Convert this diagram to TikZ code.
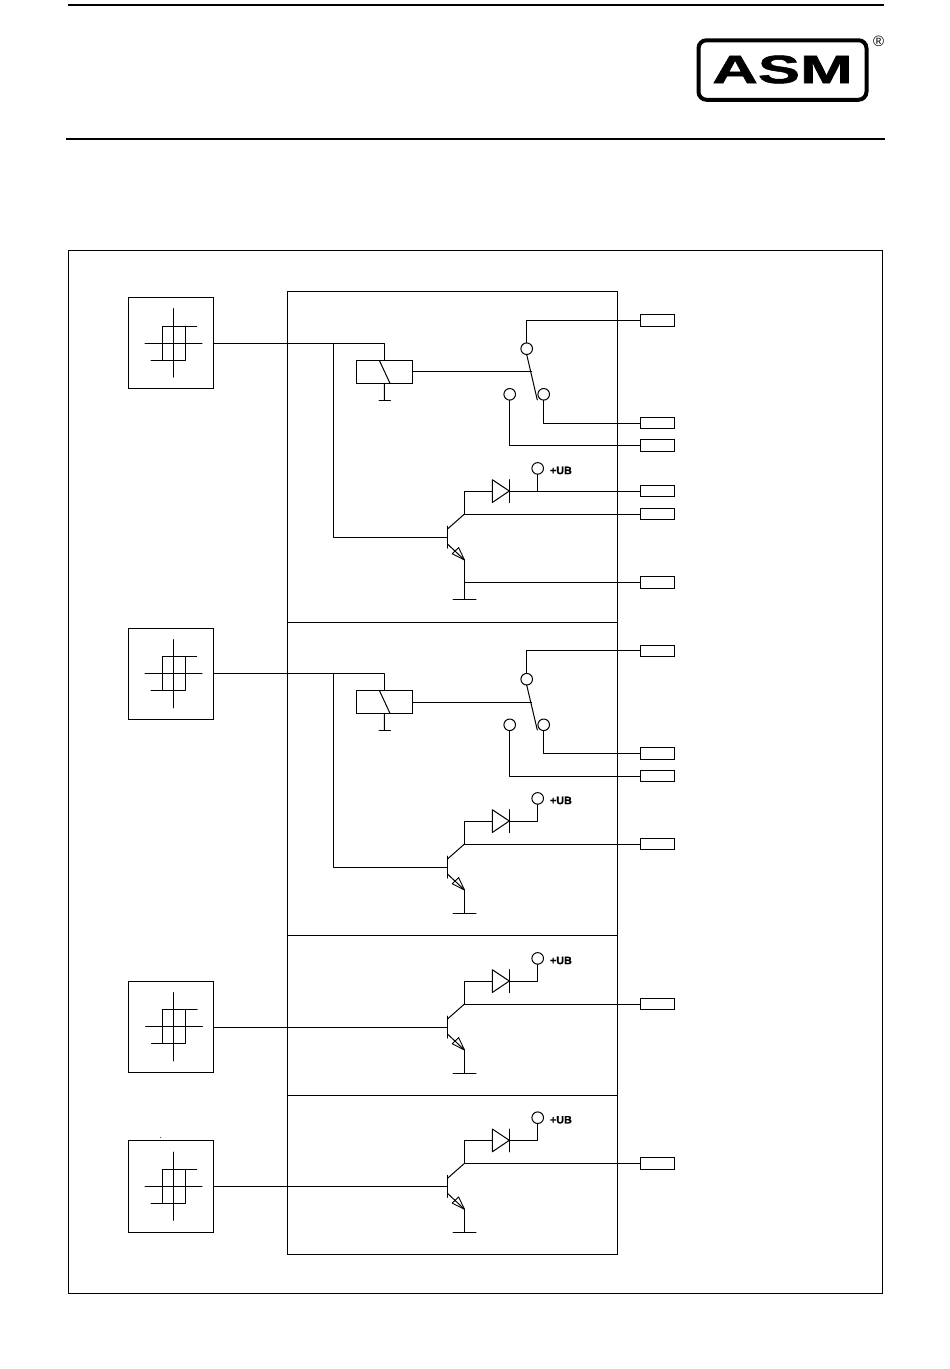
\documentclass[tikz,border=0pt]{standalone}
\usepackage{fontspec}
\usepackage{graphicx}
\setmainfont{Liberation Sans}
\tikzset{
  wire/.style={line width=1pt,line cap=round,line join=round},
  rule/.style={line width=2pt},
  block/.style={draw,line width=1pt,inner sep=0pt,outer sep=0pt,rectangle},
  sensorbox/.style={block,minimum width=85pt,minimum height=91.5pt},
  terminal/.style={block,minimum width=34.4pt,minimum height=11.5pt},
  coilbox/.style={block,minimum width=56pt,minimum height=23pt},
  contact/.style={draw,line width=1pt,circle,inner sep=0pt,outer sep=0pt,minimum size=11.6pt},
  ublabel/.style={anchor=west,inner sep=0pt,font=\fontsize{10.8}{12}\selectfont\bfseries\addfontfeature{FakeBold=0.6}},
}
% #1 name, #2 centre x, #3 centre y
\newcommand{\sensor}[3]{%
  \node[sensorbox] (#1) at (#2,#3) {};
  \draw[wire] (#2+2.5,#3-34.3) -- (#2+2.5,#3+34);
  \draw[wire] (#2-25.8,#3) -- (#2+31.2,#3);
  \draw[wire] (#2+25.9,#3-17) -- (#2-8.5,#3-17) -- (#2-8.5,#3+17) -- (#2-19.8,#3+17);
  \draw[wire] (#2-8.5,#3+17) -- (#2+14.5,#3+17) -- (#2+14.5,#3-17);
}
% #1 name, #2 input y, #3 fine offset, #4 coil output y
\newcommand{\relay}[4]{%
  \node[coilbox] (#1coil) at (384.3,#2+28.5) {};
  \draw[wire] (379.3,#2+17) -- (390,#2+40);
  \coordinate (#1gnd) at (384.5,#2+56.7);
  \draw[wire] (#1coil.south) -- (#1gnd);
  \draw[wire] (379,#2+56.7) -- (390.5,#2+56.7);
  \node[contact] (#1a) at (526.7,#2+5.4+#3) {};
  \node[contact] (#1b) at (543.7,#2+51+#3) {};
  \node[contact] (#1c) at (509.7,#2+51+#3) {};
  \coordinate (#1arm) at (537.3,#2+56.7);
  \coordinate (#1drive) at (531.7,#4);
  \draw[wire] (#1a.south) -- (#1arm);
  \draw[wire] (#1coil.east |- #1drive) -- (#1drive);
  \node[terminal] (#1t1) at (657.5,#2-23+#3) {};
  \node[terminal] (#1t2) at (657.5,#2+79.7+#3) {};
  \node[terminal] (#1t3) at (657.5,#2+102.2+#3) {};
  \draw[wire] (#1a.north) |- (#1t1.west);
  \draw[wire] (#1b.south) |- (#1t2.west);
  \draw[wire] (#1c.south) |- (#1t3.west);
}
% #1 name, #2 base y, #3 ground y
\newcommand{\transistor}[3]{%
  \coordinate (#1base) at (447.5,#2);
  \coordinate (#1col) at (464.5,#2-23);
  \coordinate (#1em) at (464.5,#2+23);
  \coordinate (#1gnd) at (464.5,#3);
  \draw[wire] (447.5,#2-11) -- (447.5,#2+11);
  \draw[wire] (447.5,#2-8) -- (#1col);
  \draw[wire,line width=0.9pt] (#1em) -- (452.2,#2+16.8) -- (458.6,#2+10.6) -- cycle;
  \draw[wire] (447.5,#2+7) -- (#1em);
  \draw[wire] (#1em) -- (#1gnd);
  \draw[wire] (453,#3) -- (476,#3);
  % diode
  \coordinate (#1top) at (464.5,#2-46);
  \coordinate (#1dtip) at (509.3,#2-46);
  \draw[wire] (#1col) -- (#1top) -- (492.3,#2-46);
  \draw[wire] (492.3,#2-57.3) -- (492.3,#2-34.5) -- (#1dtip) -- cycle;
  \draw[wire] (509.3,#2-57.3) -- (509.3,#2-34.5);
  \node[contact] (#1ub) at (537.7,#2-68.6) {};
  \node[ublabel] (#1ubt) at (549.8,#2-66.5) {+UB};
}
\begin{document}
\begin{tikzpicture}[x=1pt,y=-1pt]
\useasboundingbox (0,0) rectangle (950,1369);
\fill[white] (0,0) rectangle (950,1369);
% header rules
\draw[rule] (68,5) -- (884,5);
\draw[rule] (66,139) -- (885,139);
% logo
\node[draw,line width=4pt,rounded corners=8pt,inner sep=0pt,outer sep=0pt,minimum width=168pt,minimum height=59.5pt] (logo) at (782.5,70) {};
\node[inner sep=0pt] (logotext) at (782.5,69.5) {\fontsize{39.5}{40}\selectfont\bfseries\addfontfeature{FakeBold=1.2}\scalebox{1.6}[1]{ASM}};
\node[inner sep=0pt] (reg) at (878.7,41.5) {\fontsize{15}{16}\selectfont ®};
% outer frame and blocks
\node[block,minimum width=814pt,minimum height=1043pt] (frame) at (475.5,772) {};
\node[block,minimum width=330pt,minimum height=331pt] (sec1) at (452.5,457) {};
\node[block,minimum width=330pt,minimum height=313pt] (sec2) at (452.5,779) {};
\node[block,minimum width=330pt,minimum height=160pt] (sec3) at (452.5,1015.5) {};
\node[block,minimum width=330pt,minimum height=158.5pt] (sec4) at (452.5,1174.75) {};
% sensors
\sensor{s1}{170.8}{343}
\sensor{s2}{170.8}{673.8}
\sensor{s3}{171.3}{1026.8}
\sensor{s4}{170.8}{1186.3}
\fill (160.7,1137.3) circle (0.5pt);
% section 1
\relay{ra}{343.3}{0}{371.3}
\transistor{ta}{537}{599}
\draw[wire] (s1.east |- 0,343.3) -- (384.3,343.3) -- (racoil.north);
\coordinate (ajunc) at (333.5,343.3);
\draw[wire] (ajunc) |- (tabase);
\node[terminal] (tat1) at (657.5,491) {};
\node[terminal] (tat2) at (657.5,514) {};
\node[terminal] (tat3) at (657.5,582.4) {};
\draw[wire] (tadtip) -- (tat1.west);
\draw[wire] (taub.south) -- (taub.south |- tat1.west);
\draw[wire] (tacol) -- (tat2.west);
\draw[wire] (464.5,582.4) -- (tat3.west);
% section 2
\relay{rb}{673.3}{0.5}{702.3}
\transistor{tb}{867}{913}
\draw[wire] (s2.east |- 0,673.3) -- (384.3,673.3) -- (rbcoil.north);
\coordinate (bjunc) at (333.5,673.3);
\draw[wire] (bjunc) |- (tbbase);
\draw[wire] (tbdtip) -| (tbub.south);
\node[terminal] (tbt1) at (657.5,844) {};
\draw[wire] (tbcol) -- (tbt1.west);
% section 3
\transistor{tc}{1027}{1073}
\draw[wire] (s3.east |- tcbase) -- (tcbase);
\draw[wire] (tcdtip) -| (tcub.south);
\node[terminal] (tct1) at (657.5,1004) {};
\draw[wire] (tccol) -- (tct1.west);
% section 4
\transistor{td}{1186.3}{1232.3}
\draw[wire] (s4.east |- tdbase) -- (tdbase);
\draw[wire] (tddtip) -| (tdub.south);
\node[terminal] (tdt1) at (657.5,1163.3) {};
\draw[wire] (tdcol) -- (tdt1.west);
\end{tikzpicture}
\end{document}
